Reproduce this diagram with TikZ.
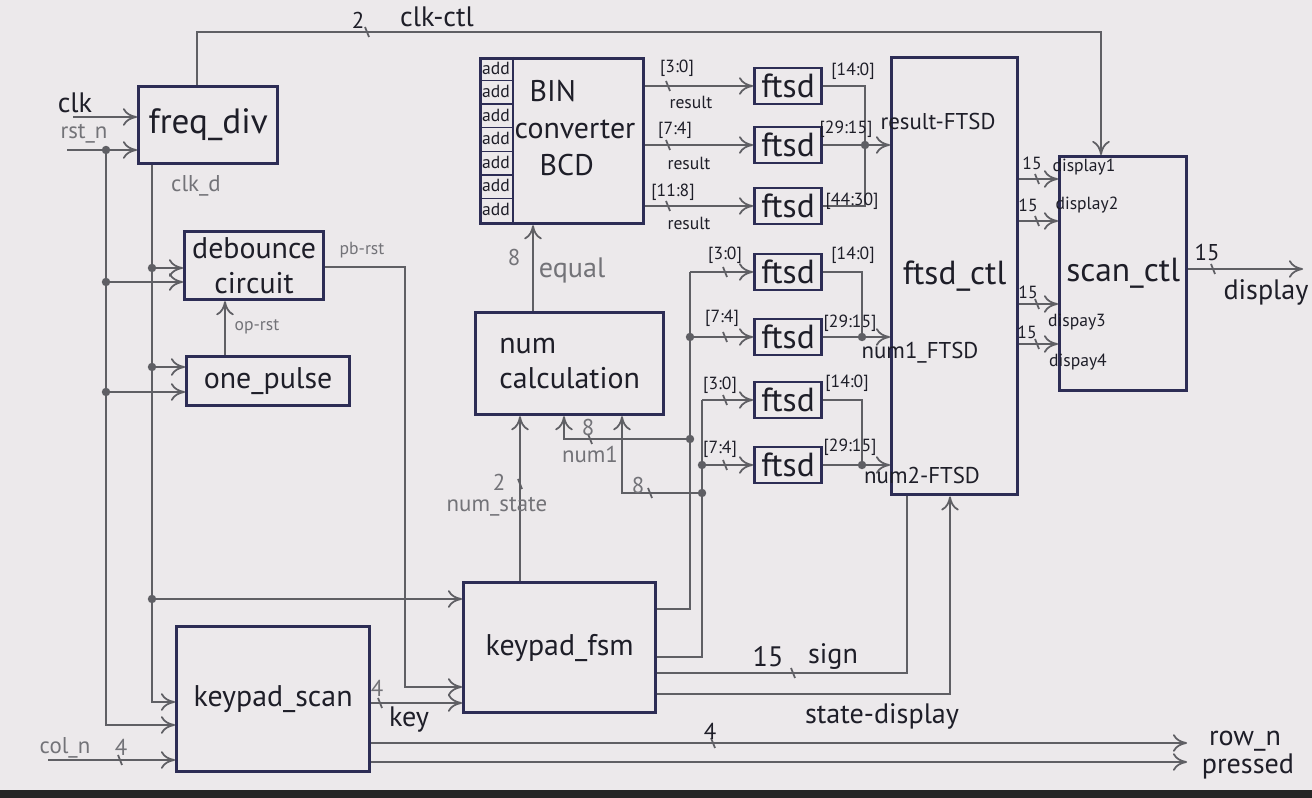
\documentclass[tikz,border=0pt]{standalone}
\usepackage{fontspec}
\setmainfont{PT Sans}
\usetikzlibrary{arrows.meta}
\definecolor{paper}{RGB}{236,233,235}
\definecolor{ink}{RGB}{45,45,85}
\definecolor{pencil}{RGB}{95,95,100}
\definecolor{pen}{RGB}{30,30,40}
\definecolor{faint}{RGB}{115,115,120}
\begin{document}
\begin{tikzpicture}[x=0.01cm,y=-0.01cm,>={To[length=4pt,width=5pt]}]
\tikzstyle{blk}=[draw=ink,line width=0.9pt,anchor=north west,inner sep=0pt,text=pen,align=center,font=\fontsize{8.5}{10}\selectfont]
\tikzstyle{ft}=[draw=ink,line width=0.8pt,minimum width=0.67cm,minimum height=0.36cm,inner sep=0pt,text=pen,font=\fontsize{9.5}{10}\selectfont]
\tikzstyle{w}=[draw=pencil,line width=0.5pt]
\tikzstyle{lb}=[inner sep=0pt,text=pen]
\tikzstyle{gl}=[inner sep=0pt,text=faint]
\tikzstyle{fa}=[font=\fontsize{5}{6}\selectfont]
\tikzstyle{fb}=[font=\fontsize{6.5}{7}\selectfont]
\tikzstyle{fc}=[font=\fontsize{8}{9}\selectfont]
\tikzset{bus/.pic={\draw[pencil,line width=0.5pt] (-2,-5) -- (2,5);}}
% paper
\fill[paper] (0,0) rectangle (1312,798);
\fill[black!85] (0,790) rectangle (1312,798);
\useasboundingbox (0,0) rectangle (1312,798);
% blocks
\node[blk,minimum width=1.39cm,minimum height=0.77cm,font=\fontsize{10}{12}\selectfont] (fdiv) at (137,85) {freq\_div};
\node[blk,minimum width=1.39cm,minimum height=0.68cm] (deb) at (183,230) {debounce\\circuit};
\node[blk,minimum width=1.63cm,minimum height=0.49cm] (opul) at (185,355) {one\_pulse};
\node[blk,minimum width=1.93cm,minimum height=1.45cm] (kscan) at (175,625) {keypad\_scan};
\node[blk,minimum width=1.92cm,minimum height=1.30cm] (kfsm) at (462,581) {keypad\_fsm};
\node[blk,minimum width=1.88cm,minimum height=1.02cm,align=left] (ncalc) at (474,311) {num\\calculation};
\node[blk,minimum width=1.63cm,minimum height=1.65cm] (bcd) at (479,57) {};
\node[blk,minimum width=1.26cm,minimum height=4.37cm,font=\fontsize{9.5}{12}\selectfont] (fctl) at (890,56) {ftsd\_ctl};
\node[blk,minimum width=1.27cm,minimum height=2.34cm,font=\fontsize{9.5}{12}\selectfont] (sctl) at (1058,155) {scan\_ctl};
% bcd inside
\draw[ink,line width=0.6pt] (513,0 |- bcd.north) -- (513,0 |- bcd.south);
\foreach \k in {1,...,6}
  \draw[ink,line width=0.4pt] (479,{57+23.57*\k}) -- (513,{57+23.57*\k});
\foreach \k in {0,...,6}
  \node[lb,fa] (add\k) at (496,{68+23.57*\k}) {add};
\node[lb,align=left,anchor=west,font=\fontsize{8.5}{10.5}\selectfont] (bcdtx) at (514,128) {\hspace{1.5mm}BIN\\converter\\\hspace{2.5mm}BCD};
% ftsd
\node[ft] (ft1) at (788,86) {ftsd};
\node[ft] (ft2) at (788,145) {ftsd};
\node[ft] (ft3) at (788,206) {ftsd};
\node[ft] (ft4) at (788,272) {ftsd};
\node[ft] (ft5) at (788,337) {ftsd};
\node[ft] (ft6) at (788,400) {ftsd};
\node[ft] (ft7) at (788,465) {ftsd};
% clock and reset
\coordinate (clkin) at (73,117);
\coordinate (rstin) at (67,150);
\coordinate (colin) at (48,760);
\coordinate (rj0) at (106,150);
\coordinate (rj1) at (106,282);
\coordinate (rj2) at (106,392);
\coordinate (rj3) at (106,725);
\coordinate (cj0) at (152,162);
\coordinate (cj1) at (152,268);
\coordinate (cj2) at (152,367);
\coordinate (cj3) at (152,599);
\coordinate (cj4) at (152,702);
\draw[w,->] (clkin) -- (clkin -| fdiv.west);
\draw[w,->] (rstin) -- (rstin -| fdiv.west);
\draw[w,->] (rj0) -- (rj3) -- (rj3 -| kscan.west);
\draw[w,->] (rj1) -- (rj1 -| deb.west);
\draw[w,->] (rj2) -- (rj2 -| opul.west);
\draw[w,->] (cj0 |- fdiv.south) -- (cj4) -- (cj4 -| kscan.west);
\draw[w,->] (cj1) -- (cj1 -| deb.west);
\draw[w,->] (cj2) -- (cj2 -| opul.west);
\draw[w,->] (cj3) -- (cj3 -| kfsm.west);
\foreach \p in {rj0,rj1,rj2,cj1,cj2,cj3} \fill[pencil] (\p) circle[radius=1.2pt];
% clk_ctl
\coordinate (ck1) at (197,32);
\coordinate (ck2) at (1101,32);
\draw[w,->] (ck1 |- fdiv.north) -- (ck1) -- (ck2) -- (ck2 |- sctl.north);
\pic at (367,32) {bus};
% op_rst, pb_rst, key
\coordinate (opx) at (225,330);
\draw[w,->] (opx |- opul.north) -- (opx |- deb.south);
\coordinate (pb1) at (405,267);
\coordinate (pb2) at (405,687);
\draw[w,->] (pb1 -| deb.east) -- (pb1) -- (pb2) -- (pb2 -| kfsm.west);
\coordinate (ky) at (380,703);
\draw[w,->] (ky -| kscan.east) -- (ky -| kfsm.west);
\pic at (ky) {bus};
% keypad pins
\coordinate (rowout) at (1187,743);
\coordinate (prout) at (1187,762);
\draw[w,->] (colin) -- (colin -| kscan.west);
\draw[w,->] (rowout -| kscan.east) -- (rowout);
\draw[w,->] (prout -| kscan.east) -- (prout);
\pic at (120,760) {bus};
\pic at (713,743) {bus};
% num_state, equal
\coordinate (ns) at (520,484);
\draw[w,->] (ns |- kfsm.north) -- (ns |- ncalc.south);
\pic at (ns) {bus};
\coordinate (eq) at (533,262);
\draw[w,->] (eq |- ncalc.north) -- (eq |- bcd.south);
% num1 bus
\coordinate (n1a) at (690,609);
\coordinate (n1b) at (690,272);
\coordinate (n1c) at (690,337);
\coordinate (n1d) at (690,439);
\coordinate (n1e) at (564,439);
\draw[w] (n1a -| kfsm.east) -- (n1a) -- (n1b);
\draw[w,->] (n1b) -- (ft4.west);
\draw[w,->] (n1c) -- (ft5.west);
\draw[w,->] (n1d) -- (n1e) -- (n1e |- ncalc.south);
\pic at (590,439) {bus};
% num2 bus
\coordinate (n2a) at (702,657);
\coordinate (n2b) at (702,400);
\coordinate (n2c) at (702,465);
\coordinate (n2d) at (702,493);
\coordinate (n2e) at (622,493);
\draw[w] (n2a -| kfsm.east) -- (n2a) -- (n2b);
\draw[w,->] (n2b) -- (ft6.west);
\draw[w,->] (n2c) -- (ft7.west);
\draw[w,->] (n2d) -- (n2e) -- (n2e |- ncalc.south);
\pic at (650,493) {bus};
\foreach \p in {n1c,n1d,n2c,n2d} \fill[pencil] (\p) circle[radius=1.2pt];
% result to ftsd
\draw[w,->] (bcd.east |- ft1) -- (ft1.west);
\draw[w,->] (bcd.east |- ft2) -- (ft2.west);
\draw[w,->] (bcd.east |- ft3) -- (ft3.west);
\foreach \yy in {86,145,206,272,337,400,465} \pic at ({\yy<250 ? 668 : 725},\yy) {bus};
% ftsd to ftsd_ctl
\coordinate (u1) at (865,86);
\coordinate (u2) at (865,145);
\coordinate (u3) at (865,206);
\draw[w] (ft1.east) -- (u1) -- (u3) -- (ft3.east);
\draw[w,->] (ft2.east) -- (ft2.east -| fctl.west);
\coordinate (l1) at (862,272);
\coordinate (l2) at (862,337);
\coordinate (l3) at (862,400);
\coordinate (l4) at (862,465);
\draw[w] (ft4.east) -- (l1) -- (l2);
\draw[w,->] (ft5.east) -- (ft5.east -| fctl.west);
\draw[w] (ft6.east) -- (l3) -- (l4);
\draw[w,->] (ft7.east) -- (ft7.east -| fctl.west);
\foreach \p in {u2,l2,l4} \fill[pencil] (\p) circle[radius=1.2pt];
% ftsd_ctl to scan_ctl
\foreach \yy in {179,221,304,344} {
  \draw[w,->] (fctl.east |- 0,\yy) -- (sctl.west |- 0,\yy);
  \pic at (1037,\yy) {bus};
}
\coordinate (dout) at (1303,269);
\draw[w,->] (dout -| sctl.east) -- (dout);
\pic at (1213,269) {bus};
% sign, state_display
\coordinate (sg) at (907,673);
\draw[w] (sg -| kfsm.east) -- (sg) -- (sg |- fctl.south);
\pic at (793,673) {bus};
\coordinate (sd) at (950,694);
\draw[w,->] (sd -| kfsm.east) -- (sd) -- (sd |- fctl.south);
% labels
\node[lb,fc] (lclk) at (75,103) {clk};
\node[gl,fb] (lrst) at (84,134) {rst\_n};
\node[gl,fb] (lclkd) at (196,186) {clk\_d};
\node[gl,fa] (lpb) at (362,250) {pb-rst};
\node[gl,fa] (lop) at (257,327) {op-rst};
\node[gl,fb] (lcol) at (65,748) {col\_n};
\node[gl,fb] (lcol4) at (121,747) {4};
\node[gl,fb] (lkey4) at (377,688) {4};
\node[lb,fc] (lkey) at (409,720) {key};
\node[lb,fb] (lrow4) at (710,731) {4};
\node[lb,fc] (lrow) at (1245,741) {row\_n};
\node[lb,fc] (lpress) at (1248,766) {pressed};
\node[lb,fb] (lck2) at (358,20) {2};
\node[lb,fc] (lckctl) at (437,17) {clk-ctl};
\node[gl,fb] (lns2) at (499,482) {2};
\node[gl,fb] (lns) at (497,507) {num\_state};
\node[gl,fb] (leq8) at (514,258) {8};
\node[gl,fc] (leq) at (572,270) {equal};
\node[gl,fb] (ln18) at (588,428) {8};
\node[gl,fb] (ln1) at (590,455) {num1};
\node[gl,fb] (ln28) at (638,486) {8};
\node[lb,fa] (lr1) at (677,68) {[3:0]};
\node[lb,fa] (lr1b) at (691,102) {result};
\node[lb,fa] (lr2) at (675,130) {[7:4]};
\node[lb,fa] (lr2b) at (689,163) {result};
\node[lb,fa] (lr3) at (673,192) {[11:8]};
\node[lb,fa] (lr3b) at (689,223) {result};
\node[lb,fa] (lo1) at (853,71) {[14:0]};
\node[lb,fa] (lo2) at (846,129) {[29:15]};
\node[lb,fa] (lo3) at (852,201) {[44:30]};
\node[lb,fb] (lrf) at (938,122) {result-FTSD};
\node[lb,fa] (li4) at (725,255) {[3:0]};
\node[lb,fa] (lo4) at (853,255) {[14:0]};
\node[lb,fa] (li5) at (722,318) {[7:4]};
\node[lb,fa] (lo5) at (850,323) {[29:15]};
\node[lb,fa] (li6) at (720,385) {[3:0]};
\node[lb,fa] (lo6) at (847,383) {[14:0]};
\node[lb,fa] (li7) at (720,449) {[7:4]};
\node[lb,fa] (lo7) at (850,447) {[29:15]};
\node[lb,fb] (ln1f) at (920,353) {num1\_FTSD};
\node[lb,fb] (ln2f) at (922,476) {num2-FTSD};
\node[lb,fa] (ld1a) at (1032,163) {15};
\node[lb,fa] (ld1) at (1084,167) {display1};
\node[lb,fa] (ld2a) at (1028,205) {15};
\node[lb,fa] (ld2) at (1087,205) {display2};
\node[lb,fa] (ld3a) at (1028,292) {15};
\node[lb,fa] (ld3) at (1077,322) {dispay3};
\node[lb,fa] (ld4a) at (1027,332) {15};
\node[lb,fa] (ld4) at (1078,362) {dispay4};
\node[lb,fb] (ldoa) at (1207,253) {15};
\node[lb,fc] (ldo) at (1266,292) {display};
\node[lb,fc] (lsg15) at (768,657) {15};
\node[lb,fc] (lsg) at (833,657) {sign};
\node[lb,fc] (lsd) at (882,716) {state-display};
\end{tikzpicture}
\end{document}
